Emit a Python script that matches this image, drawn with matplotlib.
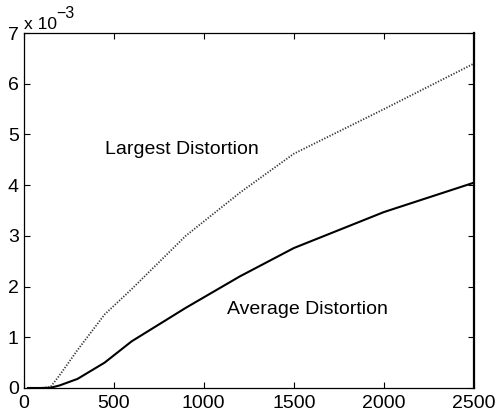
import numpy as np
import matplotlib
matplotlib.use("Agg")
import matplotlib.pyplot as plt

plt.rcParams["font.family"] = ["Liberation Sans", "DejaVu Sans"]

# -----------------------------
# Data (y values in units of 10^-3)
# -----------------------------
x = [25, 50, 100, 150, 200, 300, 450, 600, 900, 1200, 1500, 2000, 2500]
largest = [0, 0, 0, 0.02, 0.25, 0.75, 1.45, 1.95, 3.0, 3.85, 4.62, 5.5, 6.4]
average = [0, 0, 0, 0.005, 0.05, 0.18, 0.5, 0.92, 1.58, 2.2, 2.76, 3.47, 4.05]

xticks = [0, 500, 1000, 1500, 2000, 2500]
yticks = [0, 1, 2, 3, 4, 5, 6, 7]

# -----------------------------
# Plot
# -----------------------------
fig = plt.figure(figsize=(4.97, 4.19), dpi=100)
ax = fig.add_axes([0.0473, 0.074, 0.9064, 0.847])

ax.plot(x, largest, color="#333333", linestyle=(0, (0.7, 0.9)), linewidth=1.3)
ax.plot(x, average, color="black", linestyle="-", linewidth=1.5)

ax.set_xlim(0, 2500)
ax.set_ylim(0, 7)
ax.set_xticks(xticks)
ax.set_yticks(yticks)
ax.tick_params(direction="in", top=True, right=True, length=4, width=0.8,
               labelsize=14)
ax.tick_params(axis="x", pad=5)
ax.tick_params(axis="y", pad=3.5)
for s in ax.spines.values():
    s.set_linewidth(0.9)
ax.spines["right"].set_linewidth(1.6)

ax.text(452, 4.7, "Largest Distortion", fontsize=14, va="center", ha="left")
ax.text(1129, 1.54, "Average Distortion", fontsize=14, va="center", ha="left")

fig.text(24 / 497, 1 - 29 / 419, "x 10", fontsize=12.5, va="baseline", ha="left")
fig.text(56 / 497, 1 - 18 / 419, "\u22123", fontsize=11.5, va="baseline", ha="left")

fig.savefig("out.png", dpi=100)
plt.close(fig)
